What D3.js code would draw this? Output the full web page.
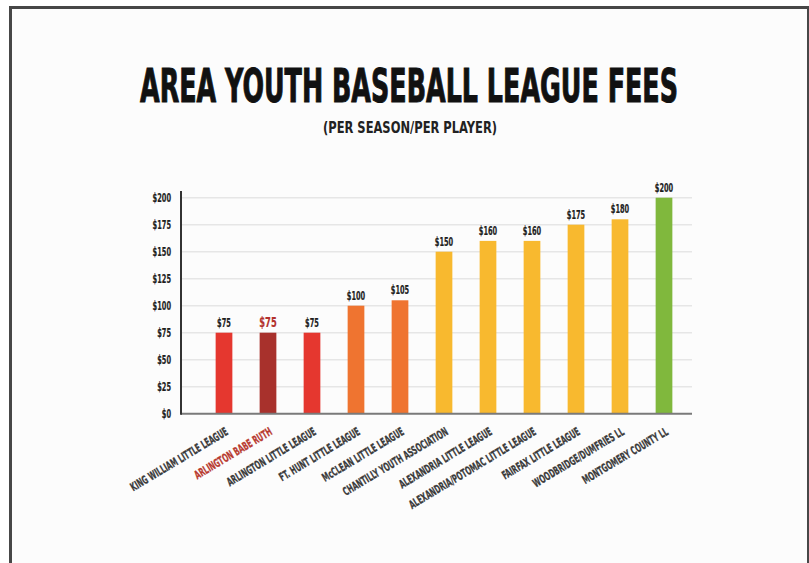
<!DOCTYPE html>
<html>
<head>
<meta charset="utf-8">
<script src="https://cdn.jsdelivr.net/npm/d3@7"></script>
<style>
  html, body { margin: 0; padding: 0; background: #fff; }
  svg { display: block; }
</style>
</head>
<body>
<svg id="chart" width="809" height="563"></svg>
<script>
// Data
const leagues = [
  'KING WILLIAM LITTLE LEAGUE', 'ARLINGTON BABE RUTH', 'ARLINGTON LITTLE LEAGUE',
  'FT. HUNT LITTLE LEAGUE', 'McCLEAN LITTLE LEAGUE', 'CHANTILLY YOUTH ASSOCIATION',
  'ALEXANDRIA LITTLE LEAGUE', 'ALEXANDRIA/POTOMAC LITTLE LEAGUE', 'FAIRFAX LITTLE LEAGUE',
  'WOODBRIDGE/DUMFRIES LL', 'MONTGOMERY COUNTY LL'
];
const fees = [75, 75, 75, 100, 105, 150, 160, 160, 175, 180, 200];
const barColors = ['#e5372f', '#a8312c', '#e5372f', '#ef7430', '#ef7430', '#f8b92f',
  '#f8b92f', '#f8b92f', '#f8b92f', '#f8b92f', '#80b83d'];
const highlight = 'ARLINGTON BABE RUTH';
const yTicks = [0, 25, 50, 75, 100, 125, 150, 175, 200];

const FONT = "'DejaVu Sans Condensed', 'DejaVu Sans', sans-serif";
const svg = d3.select('#chart');

// squeeze text horizontally to mimic a condensed face
function squeeze(sel, ratio) {
  sel.each(function () {
    const w = this.getComputedTextLength();
    d3.select(this).attr('textLength', w * ratio).attr('lengthAdjust', 'spacingAndGlyphs');
  });
}

// Frame
svg.append('rect').attr('x', 10).attr('y', 7).attr('width', 799).attr('height', 556).attr('fill', '#fcfcfc');
svg.append('rect').attr('x', 9).attr('y', 6).attr('width', 800).attr('height', 3).attr('fill', '#474747');
svg.append('rect').attr('x', 9).attr('y', 6).attr('width', 3).attr('height', 557).attr('fill', '#474747');
svg.append('rect').attr('x', 807).attr('y', 6).attr('width', 2).attr('height', 557).attr('fill', '#474747');

// Title
svg.append('text')
  .attr('x', 409).attr('y', 102)
  .attr('text-anchor', 'middle')
  .attr('font-family', FONT).attr('font-weight', 'bold').attr('font-size', 46)
  .attr('fill', '#111')
  .attr('stroke', '#111').attr('stroke-width', 1)
  .text('AREA YOUTH BASEBALL LEAGUE FEES')
  .attr('textLength', 538).attr('lengthAdjust', 'spacingAndGlyphs');

svg.append('text')
  .attr('x', 410).attr('y', 133)
  .attr('text-anchor', 'middle')
  .attr('font-family', FONT).attr('font-weight', 'bold').attr('font-size', 15)
  .attr('fill', '#222')
  .text('(PER SEASON/PER PLAYER)')
  .attr('textLength', 174).attr('lengthAdjust', 'spacingAndGlyphs');

// Scales
const x = d3.scaleBand().domain(leagues).range([202, 686]).paddingInner(0.62).paddingOuter(0.31);
const y = d3.scaleLinear().domain([0, 200]).range([413.7, 197.7]);
const axisLeft = 181, axisRight = 692;

// Gridlines
svg.append('g').selectAll('line')
  .data(yTicks.filter(d => d > 0))
  .join('line')
  .attr('x1', axisLeft).attr('x2', axisRight)
  .attr('y1', d => y(d)).attr('y2', d => y(d))
  .attr('stroke', '#e6e6e6').attr('stroke-width', 1.6);

// Y tick labels
svg.append('g').selectAll('text')
  .data(yTicks)
  .join('text')
  .attr('x', 171).attr('y', d => y(d) + 4)
  .attr('text-anchor', 'end')
  .attr('font-family', FONT).attr('font-weight', 'bold').attr('font-size', 11.5)
  .attr('fill', '#1e1e1e')
  .attr('stroke', '#1e1e1e').attr('stroke-width', 0.2)
  .text(d => '$' + d)
  .call(squeeze, 0.64);

// Bars
svg.append('g').selectAll('rect')
  .data(leagues)
  .join('rect')
  .attr('x', d => x(d))
  .attr('y', (d, i) => y(fees[i]))
  .attr('width', x.bandwidth())
  .attr('height', (d, i) => y(0) - y(fees[i]))
  .attr('fill', (d, i) => barColors[i]);

// Value labels
svg.append('g').selectAll('text')
  .data(leagues)
  .join('text')
  .attr('x', d => x(d) + x.bandwidth() / 2)
  .attr('y', (d, i) => y(fees[i]) - 6)
  .attr('text-anchor', 'middle')
  .attr('font-family', FONT).attr('font-weight', 'bold')
  .attr('font-size', d => d === highlight ? 14.5 : 11.5)
  .attr('fill', d => d === highlight ? '#b3302b' : '#1e1e1e')
  .attr('stroke', d => d === highlight ? '#b3302b' : '#1e1e1e').attr('stroke-width', 0.2)
  .text((d, i) => '$' + fees[i])
  .call(squeeze, 0.64);

// Axis lines
svg.append('line')
  .attr('x1', axisLeft).attr('x2', axisRight)
  .attr('y1', y(0)).attr('y2', y(0))
  .attr('stroke', '#7a7a7a').attr('stroke-width', 2);
svg.append('line')
  .attr('x1', axisLeft).attr('x2', axisLeft)
  .attr('y1', 191).attr('y2', y(0) + 1)
  .attr('stroke', '#333').attr('stroke-width', 2);

// Category labels
svg.append('g').selectAll('text')
  .data(leagues)
  .join('text')
  .attr('transform', d => `translate(${x(d) + x.bandwidth() / 2 + 5},434) rotate(-31)`)
  .attr('text-anchor', 'end')
  .attr('font-family', FONT).attr('font-weight', 'bold').attr('font-size', 11.5)
  .attr('fill', d => d === highlight ? '#b83a30' : '#3a3a3a')
  .attr('stroke', d => d === highlight ? '#b83a30' : '#3a3a3a').attr('stroke-width', 0.3)
  .text(d => d)
  .call(squeeze, 0.64);
</script>
</body>
</html>
